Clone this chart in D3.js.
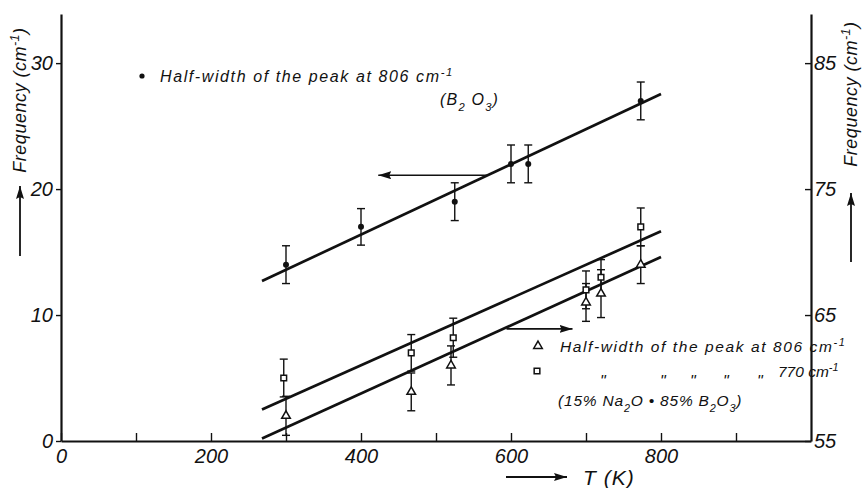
<!DOCTYPE html>
<html lang="en">
<head>
<meta charset="UTF-8">
<title>Half-width vs T</title>
<script src="https://cdn.jsdelivr.net/npm/d3@7"></script>
<style>
  body { margin: 0; background: #fff; }
  text { font-family: "Liberation Sans", Arial, sans-serif; font-style: italic; fill: #111; }
</style>
</head>
<body>
<script>
// B2O3, peak at 806 cm-1 (left axis)
const tB2O3 = [300, 400, 525, 600, 623, 773];
const wB2O3 = [14.0, 17.0, 19.0, 22.0, 22.0, 27.0];
const eB2O3 = [1.5, 1.45, 1.5, 1.5, 1.5, 1.5];

// 15% Na2O . 85% B2O3 (right axis)
const tNa806 = [300, 467, 520, 700, 720, 773];
const wNa806 = [57.0, 58.9, 61.0, 66.0, 66.7, 69.0];
const eNa806 = [1.55, 1.5, 1.55, 1.5, 1.9, 1.5];
const tNa770 = [297, 467, 523, 700, 720, 773];
const wNa770 = [60.0, 62.0, 63.2, 67.0, 68.0, 72.0];
const eNa770 = [1.5, 1.45, 1.55, 1.5, 1.4, 1.5];

// straight lines drawn through the points
const fitT = [268, 800];
const fitB2O3 = [12.7, 27.55];
const fitNa806 = [55.2, 69.6];
const fitNa770 = [57.5, 71.65];

// pointer arrows (T, value)
const arrowB2O3 = [[568, 21.1], [423, 21.1]];
const arrowNa = [[594, 63.9], [682, 63.9]];

const xTicks = [0, 100, 200, 300, 400, 500, 600, 700, 800, 900];
const xLabels = [0, 200, 400, 600, 800];
const yLTicks = [0, 10, 20, 30];
const yRTicks = [55, 65, 75, 85];

const W = 863, H = 488;
const svg = d3.select('body').append('svg').attr('width', W).attr('height', H);

svg.append('defs').append('marker')
  .attr('id', 'head').attr('viewBox', '0 0 13 8')
  .attr('refX', 13).attr('refY', 4)
  .attr('markerWidth', 13).attr('markerHeight', 8)
  .attr('markerUnits', 'userSpaceOnUse').attr('orient', 'auto')
  .append('path').attr('d', 'M0,0 L13,4 L0,8 L2,4 Z').attr('fill', '#111');

const x = d3.scaleLinear().domain([0, 1000]).range([61, 811]);
const yL = d3.scaleLinear().domain([0, 33.9]).range([441, 14]);
const yR = d3.scaleLinear().domain([55, 88.9]).range([441, 14]);

// axes
function styleAxis(g, size) {
  g.select('.domain').attr('stroke', '#111').attr('stroke-width', 2.2);
  g.selectAll('.tick line').attr('stroke', '#111').attr('stroke-width', 1.4);
  g.selectAll('.tick text').attr('font-size', size).attr('fill', '#111')
    .style('font-style', 'italic');
}

svg.append('g').attr('transform', `translate(0,${yL(0)})`)
  .call(d3.axisBottom(x).tickValues(xTicks).tickSizeInner(-8).tickSizeOuter(0)
    .tickPadding(4)
    .tickFormat(d => xLabels.includes(d) ? d : ''))
  .call(g => styleAxis(g, 20))
  .call(g => g.selectAll('.tick text').attr('dy', '0.9em'));

svg.append('g').attr('transform', `translate(${x(0)},0)`)
  .call(d3.axisLeft(yL).tickValues(yLTicks).tickSizeInner(5).tickSizeOuter(0).tickPadding(3))
  .call(g => styleAxis(g, 20));

svg.append('g').attr('transform', `translate(${x(1000)},0)`)
  .call(d3.axisRight(yR).tickValues(yRTicks).tickSizeInner(-6).tickSizeOuter(0).tickPadding(3))
  .call(g => styleAxis(g, 20));

// text with sub/superscripts
function richText(sel, parts) {
  parts.forEach(p => {
    const ts = sel.append('tspan').text(p.t);
    if (p.sup) ts.attr('baseline-shift', 'super').attr('font-size', '70%');
    if (p.sub) ts.attr('baseline-shift', 'sub').attr('font-size', '70%');
  });
  return sel;
}
const freqParts = [{t: 'Frequency  (cm'}, {t: '-1', sup: true}, {t: ')'}];

// axis titles
richText(svg.append('text')
  .attr('transform', 'translate(26,100) rotate(-90)')
  .attr('text-anchor', 'middle').attr('font-size', 18).attr('letter-spacing', 0.5), freqParts);
richText(svg.append('text')
  .attr('transform', 'translate(857,94) rotate(-90)')
  .attr('text-anchor', 'middle').attr('font-size', 18).attr('letter-spacing', 0.5), freqParts);

svg.append('line').attr('x1', 20).attr('y1', 256).attr('x2', 20).attr('y2', 186)
  .attr('stroke', '#111').attr('stroke-width', 1.8).attr('marker-end', 'url(#head)');
svg.append('line').attr('x1', 851).attr('y1', 262).attr('x2', 851).attr('y2', 193)
  .attr('stroke', '#111').attr('stroke-width', 1.8).attr('marker-end', 'url(#head)');

svg.append('line').attr('x1', 506).attr('y1', 477).attr('x2', 567).attr('y2', 477)
  .attr('stroke', '#111').attr('stroke-width', 1.8).attr('marker-end', 'url(#head)');
svg.append('text').attr('x', 583).attr('y', 485).attr('font-size', 21)
  .attr('letter-spacing', 1).text('T  (K)');

// fitted lines
[[fitB2O3, yL], [fitNa806, yR], [fitNa770, yR]].forEach(([v, y]) => {
  svg.append('line')
    .attr('x1', x(fitT[0])).attr('y1', y(v[0]))
    .attr('x2', x(fitT[1])).attr('y2', y(v[1]))
    .attr('stroke', '#111').attr('stroke-width', 2.7);
});

// pointer arrows
[[arrowB2O3, yL], [arrowNa, yR]].forEach(([a, y]) => {
  svg.append('line')
    .attr('x1', x(a[0][0])).attr('y1', y(a[0][1]))
    .attr('x2', x(a[1][0])).attr('y2', y(a[1][1]))
    .attr('stroke', '#111').attr('stroke-width', 1.6).attr('marker-end', 'url(#head)');
});

// error bars
function errorBars(ts, ws, es, y) {
  const g = svg.append('g').attr('stroke', '#111').attr('stroke-width', 1.4);
  ts.forEach((t, i) => {
    const cx = x(t), top = y(ws[i] + es[i]), bot = y(ws[i] - es[i]);
    g.append('line').attr('x1', cx).attr('x2', cx).attr('y1', top).attr('y2', bot);
    g.append('line').attr('x1', cx - 4).attr('x2', cx + 4).attr('y1', top).attr('y2', top);
    g.append('line').attr('x1', cx - 4).attr('x2', cx + 4).attr('y1', bot).attr('y2', bot);
  });
}
errorBars(tB2O3, wB2O3, eB2O3, yL);
errorBars(tNa806, wNa806, eNa806, yR);
errorBars(tNa770, wNa770, eNa770, yR);

// markers
const tri = d3.symbol().type(d3.symbolTriangle).size(32);
const sq = d3.symbol().type(d3.symbolSquare).size(32);

svg.append('g').selectAll('circle').data(tB2O3).join('circle')
  .attr('cx', d => x(d)).attr('cy', (d, i) => yL(wB2O3[i])).attr('r', 3)
  .attr('fill', '#111');
svg.append('g').selectAll('path').data(tNa806).join('path')
  .attr('d', tri).attr('transform', (d, i) => `translate(${x(d)},${yR(wNa806[i])})`)
  .attr('fill', '#fff').attr('stroke', '#111').attr('stroke-width', 1.5);
svg.append('g').selectAll('path').data(tNa770).join('path')
  .attr('d', sq).attr('transform', (d, i) => `translate(${x(d)},${yR(wNa770[i])})`)
  .attr('fill', '#fff').attr('stroke', '#111').attr('stroke-width', 1.5);

// legends
const hw = [{t: 'Half-width of the peak at 806 cm'}, {t: '-1', sup: true}];

svg.append('circle').attr('cx', 142).attr('cy', 76).attr('r', 2.6).attr('fill', '#111');
richText(svg.append('text').attr('x', 160).attr('y', 82).attr('font-size', 16)
  .attr('letter-spacing', 1.6), hw);
richText(svg.append('text').attr('x', 440).attr('y', 105).attr('font-size', 16)
  .attr('letter-spacing', 1.2),
  [{t: '(B'}, {t: '2', sub: true}, {t: ' O'}, {t: '3', sub: true}, {t: ')'}]);

svg.append('path').attr('d', tri).attr('transform', 'translate(538,346)')
  .attr('fill', '#fff').attr('stroke', '#111').attr('stroke-width', 1.5);
richText(svg.append('text').attr('x', 560).attr('y', 352).attr('font-size', 15.5)
  .attr('letter-spacing', 1.6), hw);

svg.append('path').attr('d', sq).attr('transform', 'translate(537,371)')
  .attr('fill', '#fff').attr('stroke', '#111').attr('stroke-width', 1.5);
[600, 660, 690, 723, 757].forEach(px => {
  svg.append('text').attr('x', px).attr('y', 387).attr('font-size', 16).text('"');
});
richText(svg.append('text').attr('x', 778).attr('y', 377).attr('font-size', 15.5),
  [{t: '770 cm'}, {t: '-1', sup: true}]);

richText(svg.append('text').attr('x', 558).attr('y', 406).attr('font-size', 15.5)
  .attr('letter-spacing', 0.8),
  [{t: '(15% Na'}, {t: '2', sub: true}, {t: 'O \u2022 85% B'}, {t: '2', sub: true},
   {t: 'O'}, {t: '3', sub: true}, {t: ')'}]);
</script>
</body>
</html>
